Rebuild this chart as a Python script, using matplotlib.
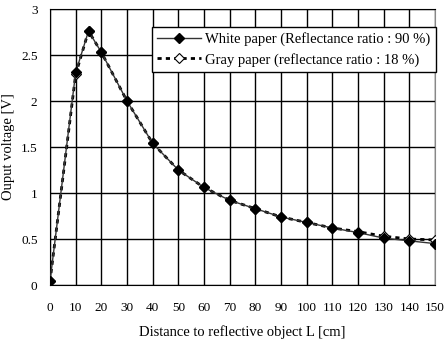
import matplotlib
matplotlib.use("Agg")
import matplotlib.pyplot as plt

distance = [0, 10, 15, 20, 30, 40, 50, 60, 70, 80, 90, 100, 110, 120, 130, 140, 150]
white_paper = [0.04, 2.31, 2.76, 2.53, 2.00, 1.54, 1.25, 1.06, 0.92, 0.83, 0.74, 0.68, 0.62, 0.57, 0.51, 0.48, 0.45]
gray_paper = [0.04, 2.29, 2.76, 2.53, 2.00, 1.54, 1.25, 1.06, 0.92, 0.83, 0.74, 0.68, 0.62, 0.58, 0.53, 0.50, 0.49]
x_ticks = list(range(0, 151, 10))
y_ticks = [0, 0.5, 1, 1.5, 2, 2.5, 3]

plt.rcParams['font.family'] = ['Liberation Serif', 'DejaVu Serif']
fig = plt.figure(figsize=(4.47, 3.42), dpi=100)
ax = fig.add_axes([50/447, 1-285/342, 385/447, 276/342])

ax.plot(distance, gray_paper, linestyle=(0, (1.5, 1.5)), color='black', linewidth=2.0,
        marker='D', markersize=5, markerfacecolor='white', markeredgecolor='black',
        markeredgewidth=0.8, label='Gray paper (reflectance ratio : 18 %)', zorder=3)
ax.plot(distance, white_paper, linestyle='-', color='#333333', linewidth=1.0,
        marker='D', markersize=5.5, markerfacecolor='black', markeredgecolor='black',
        label='White paper (Reflectance ratio : 90 %)', zorder=4)

ax.set_xlim(0, 150)
ax.set_ylim(0, 3)
ax.set_xticks(x_ticks)
ax.set_yticks(y_ticks)
ax.set_yticklabels(['0', '0.5', '1', '1.5', '2', '2.5', '3'])
ax.tick_params(length=0, labelsize=9.5)
ax.tick_params(axis='y', pad=9)
ax.tick_params(axis='x', pad=12)
ax.grid(True, color='black', linewidth=1.0)
ax.set_axisbelow(True)
for s in ['left', 'bottom', 'top']:
    ax.spines[s].set_color('black')
ax.spines['right'].set_color('#888888')

ax.set_xlabel('Distance to reflective object L [cm]', fontsize=10.5, va='center')
ax.xaxis.set_label_coords(0.5, (285-332)/276)
ax.set_ylabel('Ouput voltage [V]', fontsize=10.5, va='center')
ax.yaxis.set_label_coords((9-50)/385, 0.5)

handles, labels = ax.get_legend_handles_labels()
leg = ax.legend(handles[::-1], labels[::-1], loc='upper left',
                bbox_to_anchor=((152-50)/385, (285-27)/276), fontsize=10.5,
                frameon=True, fancybox=False, framealpha=1, edgecolor='black',
                borderpad=0.35, handlelength=3.0, handletextpad=0.3, labelspacing=0.45,
                borderaxespad=0)
leg.get_frame().set_linewidth(1.0)

fig.savefig('out.png', dpi=100)
